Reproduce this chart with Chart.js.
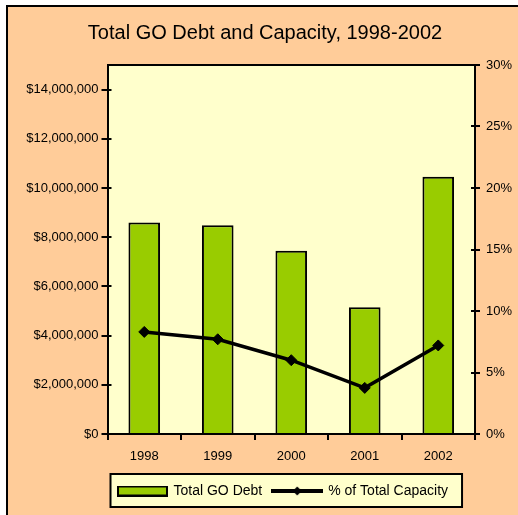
<!DOCTYPE html>
<html>
<head>
<meta charset="utf-8">
<script src="https://cdn.jsdelivr.net/npm/chart.js@4"></script>
<style>
  html, body { margin: 0; padding: 0; background: #fff; }
  #wrap { width: 518px; height: 515px; }
</style>
</head>
<body>
<div id="wrap"><canvas id="debt"></canvas></div>
<script>
const years = ["1998", "1999", "2000", "2001", "2002"];
const goDebt = [8600000, 8490000, 7450000, 5150000, 10460000];
const pctCapacity = [8.3, 7.7, 6.0, 3.75, 7.2];
const debtTicks = [0, 2000000, 4000000, 6000000, 8000000, 10000000, 12000000, 14000000];
const pctTicks = [0, 5, 10, 15, 20, 25, 30];

const ctx = document.getElementById("debt");

Chart.defaults.font.family = "'Liberation Sans', Arial, sans-serif";
Chart.defaults.font.size = 13;
Chart.defaults.color = "#000";

// legend swatches, drawn as small images
function barSwatch() {
    const c = document.createElement("canvas");
    c.width = 51; c.height = 11;
    const g = c.getContext("2d");
    g.fillStyle = "#000";
    g.fillRect(0, 0, 51, 11);
    g.fillStyle = "#99CC00";
    g.fillRect(2, 2, 47, 7);
    return c;
}
function lineSwatch() {
    const c = document.createElement("canvas");
    c.width = 52; c.height = 12;
    const g = c.getContext("2d");
    g.fillStyle = "#000";
    g.fillRect(0, 4, 52, 4);
    g.beginPath();
    g.moveTo(26, 1.5); g.lineTo(30.5, 6); g.lineTo(26, 10.5); g.lineTo(21.5, 6);
    g.closePath();
    g.fill();
    return c;
}

const frame = {
    id: "frame",
    beforeDraw(chart) {
        const { ctx, chartArea: a, width, height } = chart;
        ctx.save();
        ctx.fillStyle = "#fff";
        ctx.fillRect(0, 0, width, height);
        ctx.fillStyle = "#000";
        ctx.fillRect(6, 5, width, height);
        ctx.fillStyle = "#FFCC99";
        ctx.fillRect(8, 7, width, height);
        ctx.fillStyle = "#FFFFCC";
        ctx.fillRect(a.left, a.top, a.right - a.left, a.bottom - a.top);
        // legend box
        const lg = chart.legend;
        const hb = lg.legendHitBoxes;
        if (hb && hb.length) {
            const last = hb[hb.length - 1];
            const x0 = hb[0].left - 8;
            const x1 = last.left + last.width + 14;
            ctx.fillStyle = "#FFFFCC";
            ctx.fillRect(x0, lg.top + 1, x1 - x0, lg.bottom - lg.top - 2);
            ctx.strokeStyle = "#000";
            ctx.lineWidth = 2;
            ctx.strokeRect(x0, lg.top + 1, x1 - x0, lg.bottom - lg.top - 2);
        }
        ctx.restore();
    },
    afterDraw(chart) {
        const { ctx, chartArea: a } = chart;
        ctx.save();
        ctx.strokeStyle = "#000";
        ctx.lineWidth = 2;
        ctx.beginPath();
        ctx.moveTo(a.left, a.top);
        ctx.lineTo(a.right, a.top);
        ctx.stroke();
        // tick marks cross the value axes a little
        [["y", a.left, 1], ["y1", a.right, -1]].forEach(([id, x, dir]) => {
            const s = chart.scales[id];
            s.ticks.forEach((t) => {
                const py = Math.round(s.getPixelForValue(t.value));
                ctx.beginPath();
                ctx.moveTo(x, py);
                ctx.lineTo(x + 4 * dir, py);
                ctx.stroke();
            });
        });
        ctx.restore();
    },
};

new Chart(ctx, {
    type: "bar",
    data: {
        labels: years,
        datasets: [
            {
                label: "Total GO Debt",
                data: goDebt,
                yAxisID: "y",
                backgroundColor: "#99CC00",
                borderColor: "#000",
                borderWidth: 2,
                categoryPercentage: 1,
                barPercentage: 0.43,
                order: 1,
            },
            {
                type: "line",
                label: "% of Total Capacity",
                data: pctCapacity,
                yAxisID: "y1",
                borderColor: "#000",
                borderWidth: 3.5,
                tension: 0,
                pointStyle: "rectRot",
                pointRadius: 5.5,
                pointBorderWidth: 1,
                pointBackgroundColor: "#000",
                pointBorderColor: "#000",
                order: 0,
            },
        ],
    },
    options: {
        responsive: true,
        maintainAspectRatio: false,
        animation: false,
        layout: {
            padding: { left: 12, right: 0, top: 0, bottom: 7 },
        },
        plugins: {
            title: {
                display: true,
                text: "Total GO Debt and Capacity, 1998-2002",
                color: "#000",
                font: {
                    family: "'Liberation Sans', Arial, sans-serif",
                    size: 20, weight: "normal",
                },
                padding: { top: 21, bottom: 20 },
            },
            legend: {
                position: "bottom",
                align: "start",
                fullSize: false,
                labels: {
                    usePointStyle: true,
                    pointStyleWidth: 48,
                    padding: 11,
                    color: "#000",
                    font: { size: 14 },
                    generateLabels: () => [
                        { text: "Total GO Debt", pointStyle: barSwatch(), datasetIndex: 0,
                          fillStyle: "transparent", strokeStyle: "transparent", lineWidth: 0, fontColor: "#000", hidden: false },
                        { text: "% of Total Capacity", pointStyle: lineSwatch(), datasetIndex: 1,
                          fillStyle: "transparent", strokeStyle: "transparent", lineWidth: 0, fontColor: "#000", hidden: false },
                    ],
                },
            },
            tooltip: { enabled: false },
        },
        scales: {
            x: {
                grid: { drawOnChartArea: false, color: "#000", lineWidth: 2, tickLength: 6, offset: true },
                border: { color: "#000", width: 2 },
                ticks: { padding: 9 },
                afterFit: (s) => { s.height = 39; },
            },
            y: {
                position: "left",
                min: 0,
                max: 15000000,
                afterBuildTicks: (s) => { s.ticks = debtTicks.map((v) => ({ value: v })); },
                ticks: { padding: 3, callback: (v) => "$" + v.toLocaleString("en-US") },
                grid: { drawOnChartArea: false, color: "#000", lineWidth: 2, tickLength: 6 },
                border: { color: "#000", width: 2 },
                afterFit: (s) => { s.width = 95.5; },
            },
            y1: {
                position: "right",
                min: 0,
                max: 30,
                afterBuildTicks: (s) => { s.ticks = pctTicks.map((v) => ({ value: v })); },
                ticks: { padding: 6, callback: (v) => v + "%" },
                grid: { drawOnChartArea: false, color: "#000", lineWidth: 2, tickLength: 5 },
                border: { color: "#000", width: 2 },
                afterFit: (s) => { s.width = 43; },
            },
        },
    },
    plugins: [frame],
});
</script>
</body>
</html>
